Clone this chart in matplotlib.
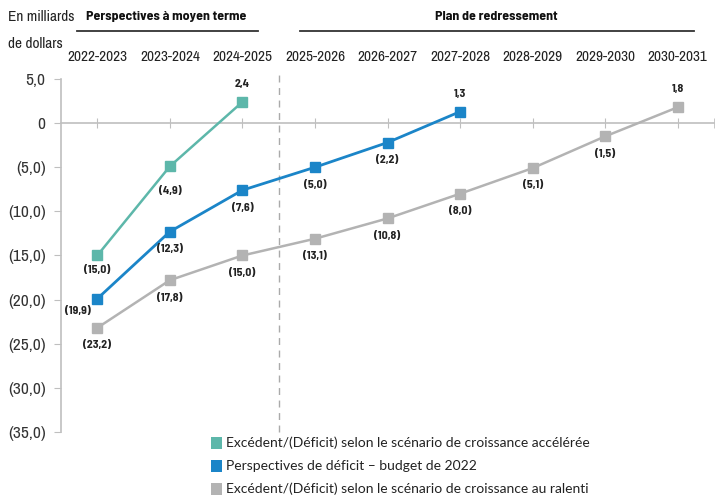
import matplotlib
matplotlib.use("Agg")
import matplotlib.pyplot as plt
from matplotlib.patches import Rectangle
from matplotlib.lines import Line2D

categories = ["2022-2023", "2023-2024", "2024-2025", "2025-2026", "2026-2027",
              "2027-2028", "2028-2029", "2029-2030", "2030-2031"]
fast_growth = [-15.0, -4.9, 2.4]
budget_2022 = [-19.9, -12.3, -7.6, -5.0, -2.2, 1.3]
slow_growth = [-23.2, -17.8, -15.0, -13.1, -10.8, -8.0, -5.1, -1.5, 1.8]
y_ticks = [5, 0, -5, -10, -15, -20, -25, -30, -35]
legend_labels = ["Excédent/(Déficit) selon le scénario de croissance accélérée",
                 "Perspectives de déficit – budget de 2022",
                 "Excédent/(Déficit) selon le scénario de croissance au ralenti"]
header_left = "Perspectives à moyen terme"
header_right = "Plan de redressement"
unit_label = "En milliards\nde dollars"

c_teal = "#5DB7AA"
c_blue = "#1B85C8"
c_gray = "#B3B3B3"

NARROW = ["Archivo Narrow", "Liberation Sans", "DejaVu Sans"]
NARROW_B = ["Barlow Semi Condensed", "Archivo Narrow", "DejaVu Sans"]

def fmt(v):
    s = f"{abs(v):.1f}".replace(".", ",")
    return f"({s})" if v < 0 else s

def fmt_tick(v):
    if v == 0:
        return "0"
    return fmt(v)

fig = plt.figure(figsize=(7.24, 4.99), dpi=100)
ax = fig.add_axes([61/724, 1-432/499, (714-61)/724, (432-79)/499])
ax.set_xlim(-0.5, 8.5)
ax.set_ylim(-35, 5)

# label offsets in points (dx, dy) for special cases
special = {("teal", 0): (0, -10.5), ("teal", 1): (0, -18),
           ("blue", 0): (-14, -9), ("gray", 0): (0, -12)}

series = [("teal", fast_growth, c_teal, 1.8), ("blue", budget_2022, c_blue, 2.0),
          ("gray", slow_growth, c_gray, 1.8)]
for name, vals, col, lw in series:
    xs = list(range(len(vals)))
    ax.plot(xs, vals, color=col, lw=lw, marker="s", markersize=6.5, zorder=3)
    for i, v in enumerate(vals):
        dx, dy = (0, 13) if v > 0 else (0, -12.5)
        dx, dy = special.get((name, i), (dx, dy))
        ax.annotate(fmt(v), (i, v), xytext=(dx, dy), textcoords="offset points",
                    ha="center", va="center", fontsize=8.5, fontweight="bold",
                    family=NARROW_B, color="#222222")

for s in ["top", "right"]:
    ax.spines[s].set_visible(False)
ax.spines["left"].set_color("#BFBFBF")
ax.spines["bottom"].set_color("#BFBFBF")
ax.spines["bottom"].set_position(("data", 0))
ax.spines["left"].set_linewidth(1.2)
ax.spines["bottom"].set_linewidth(1.2)

ax.set_yticks(y_ticks)
ax.set_yticklabels([fmt_tick(v) for v in y_ticks], family=NARROW, fontsize=12.5, color="#333333")
ax.tick_params(axis="y", length=5, color="#BFBFBF", pad=6)
ax.set_xticks(range(len(categories)))
ax.set_xticklabels([])
ax.tick_params(axis="x", direction="inout", length=7, color="#BFBFBF")
ax.set_xticks([8.5], minor=True)
ax.tick_params(axis="x", which="minor", direction="inout", length=7, color="#BFBFBF")

# category labels at top
for i, c in enumerate(categories):
    xfig = ax.transData.transform((i, 0))[0] / 724
    fig.text(xfig, 1-57/499, c, ha="center", va="center", fontsize=11,
             family=NARROW, color="#222222")

# dashed separator
ax.axvline(2.5, ymin=0, ymax=1.025, color="#AAAAAA", lw=1, ls=(0, (5, 4)), clip_on=False)

# headers
fig.text(166/724, 1-17/499, header_left, ha="center", va="center", fontsize=10,
         fontweight="bold", family=NARROW_B, color="#111111")
fig.text(496/724, 1-17/499, header_right, ha="center", va="center", fontsize=10,
         fontweight="bold", family=NARROW_B, color="#111111")
fig.add_artist(Line2D([77/724, 258/724], [1-31/499, 1-31/499], color="#333333", lw=1.3))
fig.add_artist(Line2D([300/724, 694/724], [1-31/499, 1-31/499], color="#333333", lw=1.3))
fig.text(8/724, 1-30.5/499, unit_label, ha="left", va="center", fontsize=11,
         family=NARROW, color="#222222", linespacing=2.1)

# legend
for k, (lab, col) in enumerate(zip(legend_labels, [c_teal, c_blue, c_gray])):
    yc = 443 + 23 * k
    fig.add_artist(Rectangle((211/724, 1-(yc+6)/499), 11/724, 12/499,
                             transform=fig.transFigure, color=col, lw=0))
    fig.text(226/724, 1-yc/499, lab, ha="left", va="center", fontsize=10,
             family=["Lato", "DejaVu Sans"], color="#222222")

fig.savefig("out.png", dpi=100)
